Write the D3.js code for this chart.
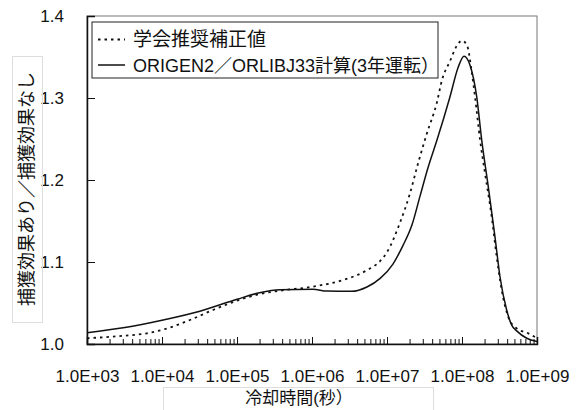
<!DOCTYPE html>
<html>
<head>
<meta charset="utf-8">
<script src="https://cdn.jsdelivr.net/npm/d3@7"></script>
<style>
  html, body { margin: 0; padding: 0; background: #fff; }
  svg { display: block; }
  text { font-family: "Liberation Sans", "Noto Sans CJK JP", sans-serif; fill: #111; }
</style>
</head>
<body>
<svg id="chart" width="579" height="410"></svg>
<script>
// Cooling time (s) and capture-effect ratio, recommended correction (dotted)
const recTimes = [1e3, 3.02e3, 6.3e3, 1.17e4, 2.36e4, 4.79e4, 1e5, 2.03e5, 3.74e5, 1.03e6,
  2.59e6, 5.41e6, 8.07e6, 1e7, 1.49e7, 2.03e7, 2.59e7, 3.41e7, 4.64e7, 5.41e7, 6.92e7,
  8.32e7, 1e8, 1.17e8, 1.32e8, 1.49e8, 1.74e8, 2.03e8, 2.49e8, 2.9e8, 3.38e8, 4.14e8,
  5.36e8, 7.66e8, 1e9];
const recValues = [1.007, 1.010, 1.013, 1.019, 1.0293, 1.0415, 1.0528, 1.061, 1.065, 1.070,
  1.078, 1.090, 1.101, 1.112, 1.148, 1.184, 1.220, 1.257, 1.295, 1.322, 1.345,
  1.362, 1.370, 1.364, 1.338, 1.3016, 1.249, 1.208, 1.155, 1.1065, 1.066, 1.033,
  1.019, 1.013, 1.007];

// ORIGEN2/ORLIBJ33 calculation, 3-year irradiation (solid)
const calcTimes = [1e3, 3.2e3, 1e4, 3.2e4, 1e5, 2e5, 3.75e5, 1.03e6, 1.58e6, 3.4e6, 5.4e6,
  8.1e6, 1.2e7, 1.63e7, 2.15e7, 2.75e7, 3.52e7, 4.65e7, 6.92e7, 8.85e7, 1.064e8, 1.28e8,
  1.57e8, 1.83e8, 2.24e8, 2.75e8, 3.21e8, 3.94e8, 4.6e8, 5.36e8, 7.3e8, 1e9];
const calcValues = [1.0138, 1.020, 1.029, 1.040, 1.0545, 1.0625, 1.0662, 1.0667, 1.0645, 1.0642, 1.0695,
  1.080, 1.0975, 1.120, 1.145, 1.180, 1.215, 1.249, 1.3016, 1.337, 1.351, 1.340,
  1.3016, 1.249, 1.192, 1.131, 1.082, 1.0415, 1.023, 1.016, 1.007, 1.003];

const xTickValues = [1e3, 1e4, 1e5, 1e6, 1e7, 1e8, 1e9];
const xTickLabels = ["1.0E+03", "1.0E+04", "1.0E+05", "1.0E+06", "1.0E+07", "1.0E+08", "1.0E+09"];
const yTickValues = [1.0, 1.1, 1.2, 1.3, 1.4];
const yTickLabels = ["1.0", "1.1", "1.2", "1.3", "1.4"];

const seriesNames = ["学会推奨補正値", "ORIGEN2／ORLIBJ33計算(3年運転）"];
const xTitle = "冷却時間(秒）";
const yTitle = "捕獲効果あり／捕獲効果なし";

const svg = d3.select("#chart");
const plot = { left: 87, right: 537, top: 16, bottom: 344 };

const x = d3.scaleLog().domain([1e3, 1e9]).range([plot.left, plot.right]);
const y = d3.scaleLinear().domain([1.0, 1.4]).range([plot.bottom, plot.top]);

// frame (top/right lighter)
svg.append("rect")
  .attr("x", plot.left).attr("y", plot.top)
  .attr("width", plot.right - plot.left).attr("height", plot.bottom - plot.top)
  .attr("fill", "none").attr("stroke", "#777").attr("stroke-width", 1);

// minor x ticks (2..9 per decade), pointing inward
const minorTicks = [];
for (let e = 3; e < 9; e++) for (let m = 2; m <= 9; m++) minorTicks.push(m * Math.pow(10, e));
const xMinor = d3.axisBottom(x).tickValues(minorTicks).tickSize(-5).tickFormat("");
svg.append("g").attr("transform", `translate(0,${plot.bottom})`).call(xMinor)
  .call(g => g.select(".domain").remove())
  .call(g => g.selectAll("line").attr("stroke", "#111"));

// major x ticks with labels
const xMajor = d3.axisBottom(x).tickValues(xTickValues).tickSize(-7).tickPadding(25.5)
  .tickFormat((d, i) => xTickLabels[i]);
svg.append("g").attr("transform", `translate(0,${plot.bottom})`).call(xMajor)
  .call(g => g.select(".domain").attr("stroke", "#111").attr("stroke-width", 1.5))
  .call(g => g.selectAll("line").attr("stroke", "#111"))
  .call(g => g.selectAll("text").style("font-size", "17px").attr("fill", "#111"));

// y axis
const yAxis = d3.axisLeft(y).tickValues(yTickValues).tickSize(-8).tickPadding(23)
  .tickFormat((d, i) => yTickLabels[i]);
svg.append("g").attr("transform", `translate(${plot.left},0)`).call(yAxis)
  .call(g => g.select(".domain").attr("stroke", "#111").attr("stroke-width", 1.5))
  .call(g => g.selectAll("line").attr("stroke", "#111"))
  .call(g => g.selectAll("text").style("font-size", "17px").attr("fill", "#111"));

// curves
const line = d3.line().x(d => x(d[0])).y(d => y(d[1])).curve(d3.curveMonotoneX);
const recData = recTimes.map((t, i) => [t, recValues[i]]);
const calcData = calcTimes.map((t, i) => [t, calcValues[i]]);

svg.append("path").datum(recData).attr("d", line)
  .attr("fill", "none").attr("stroke", "#111").attr("stroke-width", 1.8)
  .attr("stroke-dasharray", "2.5,4");
svg.append("path").datum(calcData).attr("d", line)
  .attr("fill", "none").attr("stroke", "#111").attr("stroke-width", 1.5);

// legend
const lg = svg.append("g");
lg.append("rect").attr("x", 92).attr("y", 22).attr("width", 346).attr("height", 56)
  .attr("fill", "#fff").attr("stroke", "#222").attr("stroke-width", 1);
lg.append("line").attr("x1", 98).attr("x2", 125).attr("y1", 39.5).attr("y2", 39.5)
  .attr("stroke", "#111").attr("stroke-width", 1.8).attr("stroke-dasharray", "2.5,4");
lg.append("line").attr("x1", 98).attr("x2", 125).attr("y1", 65).attr("y2", 65)
  .attr("stroke", "#111").attr("stroke-width", 1.5);
lg.append("text").attr("x", 133).attr("y", 46).style("font-size", "19px").text(seriesNames[0]);
lg.append("text").attr("x", 133).attr("y", 72).style("font-size", "18px").text(seriesNames[1]);

// axis titles in light boxes
svg.append("rect").attr("x", 163.5).attr("y", 387.5).attr("width", 270).attr("height", 30)
  .attr("fill", "none").attr("stroke", "#ddd");
svg.append("text").attr("x", 299).attr("y", 404).attr("text-anchor", "middle")
  .style("font-size", "17px").text(xTitle);

svg.append("rect").attr("x", 12.5).attr("y", 56.5).attr("width", 30).attr("height", 266)
  .attr("fill", "none").attr("stroke", "#ddd");
svg.append("text").attr("transform", "translate(27,189) rotate(-90)")
  .attr("text-anchor", "middle").attr("dy", "0.36em")
  .style("font-size", "18px").text(yTitle);
</script>
</body>
</html>
